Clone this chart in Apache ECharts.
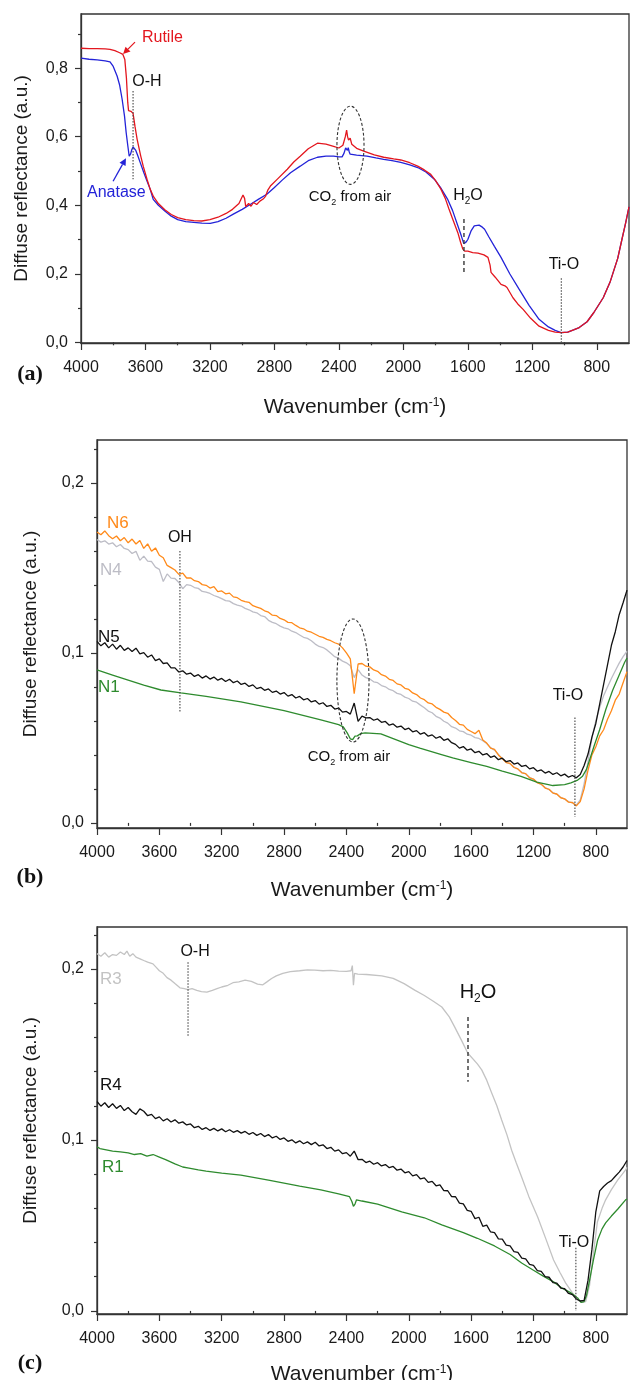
<!DOCTYPE html>
<html><head><meta charset="utf-8">
<script src="https://cdn.jsdelivr.net/npm/echarts@6.0.0/dist/echarts.min.js"></script>
<style>html,body{margin:0;padding:0;background:#fff}#main{width:630px;height:1380px}</style>
</head><body><div id="main"></div>
<script>
// ---------------- tick labels ----------------
const xTicksMajor = [800, 1200, 1600, 2000, 2400, 2800, 3200, 3600, 4000];
const xTicksMinor = [1000, 1400, 1800, 2200, 2600, 3000, 3400, 3800];
const yTicksMajorA = [0, 0.2, 0.4, 0.6, 0.8];
const yTicksMinorA = [0.1, 0.3, 0.5, 0.7, 0.9];
const yTicksMajorBC = [0, 0.1, 0.2];
const yTicksMinorBC = [0.02, 0.04, 0.06, 0.08, 0.12, 0.14, 0.16, 0.18, 0.22];

// ---------------- panel (a) ----------------
const rutileWn = [4000,3950,3900,3850,3820,3790,3760,3740,3728,3718,3710,3705,3690,3677,3665,3652,3630,3614,3590,3571,3550,3520,3480,3440,3400,3350,3300,3250,3200,3150,3100,3060,3020,2995,2985,2978,2960,2945,2930,2910,2890,2870,2855,2840,2825,2780,2720,2680,2640,2590,2533,2480,2433,2400,2375,2360,2352,2346,2340,2330,2320,2290,2246,2180,2122,2060,2016,1960,1911,1870,1830,1800,1767,1740,1717,1690,1662,1645,1631,1620,1600,1570,1537,1500,1475,1462,1456,1430,1394,1370,1357,1320,1290,1257,1210,1158,1100,1058,1021,980,940,909,860,818,760,718,670,644,620,600];
const rutileR = [0.858,0.857,0.857,0.856,0.855,0.851,0.845,0.840,0.825,0.770,0.700,0.676,0.674,0.668,0.630,0.593,0.545,0.514,0.475,0.447,0.425,0.405,0.387,0.373,0.364,0.358,0.355,0.354,0.358,0.365,0.376,0.388,0.405,0.430,0.420,0.396,0.405,0.397,0.408,0.402,0.412,0.418,0.426,0.445,0.456,0.477,0.505,0.526,0.543,0.565,0.581,0.578,0.572,0.567,0.575,0.600,0.619,0.600,0.590,0.596,0.578,0.566,0.558,0.547,0.540,0.535,0.532,0.524,0.514,0.503,0.490,0.472,0.447,0.420,0.389,0.355,0.320,0.292,0.272,0.266,0.266,0.262,0.260,0.255,0.248,0.225,0.204,0.190,0.169,0.165,0.160,0.130,0.112,0.096,0.070,0.047,0.035,0.030,0.028,0.030,0.037,0.043,0.060,0.087,0.130,0.175,0.245,0.300,0.350,0.395];
const anataseWn = [4000,3950,3900,3850,3820,3800,3776,3760,3745,3730,3720,3710,3701,3692,3685,3677,3670,3660,3648,3633,3610,3590,3571,3552,3520,3480,3440,3400,3350,3300,3250,3198,3150,3100,3055,3000,2950,2900,2847,2800,2750,2700,2640,2590,2533,2480,2433,2400,2380,2368,2358,2352,2347,2342,2336,2330,2290,2226,2170,2122,2070,2016,1960,1911,1860,1808,1770,1726,1695,1662,1640,1625,1620,1610,1600,1580,1560,1548,1530,1510,1496,1470,1435,1394,1340,1282,1220,1158,1100,1058,1021,980,940,909,860,818,760,718,670,644,620,600];
const anataseR = [0.829,0.826,0.824,0.821,0.818,0.805,0.777,0.750,0.710,0.660,0.613,0.575,0.543,0.550,0.562,0.570,0.572,0.560,0.545,0.525,0.495,0.470,0.447,0.417,0.400,0.383,0.368,0.358,0.352,0.350,0.348,0.347,0.352,0.362,0.374,0.388,0.402,0.417,0.432,0.452,0.474,0.495,0.514,0.530,0.540,0.543,0.543,0.541,0.541,0.552,0.567,0.572,0.560,0.568,0.556,0.549,0.546,0.543,0.538,0.534,0.530,0.525,0.518,0.510,0.497,0.476,0.452,0.418,0.385,0.340,0.310,0.288,0.286,0.293,0.300,0.325,0.340,0.345,0.342,0.336,0.330,0.308,0.280,0.248,0.200,0.155,0.108,0.067,0.045,0.035,0.028,0.030,0.037,0.043,0.060,0.087,0.130,0.175,0.245,0.300,0.350,0.395];

// ---------------- shared wavenumber grid for panels (b) and (c) ----------------
const wnGrid = [4000,3975,3950,3925,3900,3875,3850,3825,3800,3775,3750,3725,3700,3675,3650,3625,3600,3575,3550,3525,3500,3475,3450,3425,3400,3375,3350,3325,3300,3275,3250,3225,3200,3175,3150,3125,3100,3075,3050,3025,3000,2975,2950,2925,2900,2875,2850,2825,2800,2775,2750,2725,2700,2675,2650,2625,2600,2575,2550,2525,2500,2475,2450,2425,2400,2375,2350,2325,2300,2275,2250,2225,2200,2175,2150,2125,2100,2075,2050,2025,2000,1975,1950,1925,1900,1875,1850,1825,1800,1775,1750,1725,1700,1675,1650,1625,1600,1575,1550,1525,1500,1475,1450,1425,1400,1375,1350,1325,1300,1275,1250,1225,1200,1175,1150,1125,1100,1075,1050,1025,1000,975,950,925,900,875,850,825,800,775,750,725,700,675,650,625,600];

// ---------------- panel (b) ----------------
const n6R = [0.1712,0.1695,0.1718,0.1690, 0.1672,0.1688,0.1660,0.1679, 0.1648,0.1670,0.1641,0.1662, 0.1615,0.1642,0.1598,0.1618, 0.1575,0.1560,0.1515,0.1502, 0.1488,0.1462,0.1470,0.1441, 0.1442,0.1425,0.1420,0.1402, 0.1398,0.1382,0.1390,0.1361, 0.1365,0.1348,0.1352,0.1330, 0.1325,0.1310,0.1302,0.1298, 0.1278,0.1270,0.1262,0.1248, 0.1240,0.1222,0.1220,0.1203, 0.1195,0.1180,0.1178,0.1162, 0.1148,0.1142,0.1128,0.1122, 0.1110,0.1098,0.1092,0.1080, 0.1072,0.1060,0.1052,0.1030, 0.1000,0.0965,0.0760,0.0935, 0.0938,0.0922,0.0918,0.0900, 0.0892,0.0872,0.0864,0.0845, 0.0838,0.0818,0.0812,0.0792, 0.0785,0.0765,0.0755,0.0735, 0.0725,0.0706,0.0700,0.0680, 0.0668,0.0652,0.0645,0.0620, 0.0603,0.0580,0.0575,0.0550, 0.0538,0.0525,0.0545,0.0488, 0.0470,0.0440,0.0432,0.0400, 0.0378,0.0355,0.0350,0.0326, 0.0318,0.0295,0.0290,0.0265, 0.0258,0.0236,0.0228,0.0205, 0.0198,0.0175,0.0170,0.0148, 0.0142,0.0122,0.0120,0.0100, 0.0125,0.0200,0.0310,0.0400, 0.0448,0.0512,0.0548,0.0610, 0.0660,0.0722,0.0758,0.0825, 0.0890];
const n4R = [0.1668,0.1652,0.1660,0.1641, 0.1648,0.1625,0.1638,0.1615, 0.1608,0.1585,0.1598,0.1545, 0.1570,0.1540,0.1538,0.1505, 0.1492,0.1420,0.1465,0.1440, 0.1438,0.1415,0.1378,0.1402, 0.1398,0.1385,0.1380,0.1362, 0.1358,0.1350,0.1338,0.1330, 0.1320,0.1308,0.1305,0.1290, 0.1282,0.1276,0.1262,0.1254, 0.1242,0.1236,0.1220,0.1214, 0.1192,0.1180,0.1172,0.1158, 0.1148,0.1142,0.1128,0.1120, 0.1106,0.1092,0.1086,0.1072, 0.1052,0.1038,0.1032,0.1018, 0.0998,0.0978,0.0968,0.0952, 0.0942,0.0925,0.0855,0.0902, 0.0870,0.0855,0.0847,0.0830, 0.0825,0.0808,0.0801,0.0785, 0.0778,0.0762,0.0756,0.0740, 0.0732,0.0716,0.0710,0.0693, 0.0678,0.0658,0.0648,0.0627, 0.0617,0.0598,0.0587,0.0566, 0.0558,0.0542,0.0537,0.0522, 0.0516,0.0502,0.0497,0.0483, 0.0467,0.0443,0.0428,0.0403, 0.0377,0.0358,0.0347,0.0328, 0.0316,0.0298,0.0288,0.0268, 0.0256,0.0238,0.0226,0.0208, 0.0196,0.0178,0.0168,0.0150, 0.0140,0.0125,0.0118,0.0105, 0.0135,0.0230,0.0360,0.0500, 0.0600,0.0680,0.0748,0.0800, 0.0850,0.0895,0.0940,0.0978, 0.1010];
const n5R = [0.1068,0.1042,0.1060,0.1030, 0.1052,0.1022,0.1045,0.1015, 0.1030,0.1008,0.1028,0.0995, 0.1002,0.0975,0.0988,0.0955, 0.0965,0.0938,0.0942,0.0912, 0.0912,0.0888,0.0895,0.0875, 0.0882,0.0862,0.0872,0.0852, 0.0865,0.0846,0.0858,0.0840, 0.0850,0.0832,0.0845,0.0825, 0.0835,0.0815,0.0822,0.0803, 0.0812,0.0790,0.0798,0.0780, 0.0788,0.0768,0.0776,0.0758, 0.0767,0.0746,0.0755,0.0735, 0.0744,0.0724,0.0732,0.0712, 0.0720,0.0699,0.0707,0.0685, 0.0692,0.0670,0.0676,0.0652, 0.0656,0.0640,0.0705,0.0598, 0.0628,0.0618,0.0620,0.0604, 0.0612,0.0592,0.0597,0.0575, 0.0582,0.0563,0.0570,0.0549, 0.0557,0.0536,0.0543,0.0522, 0.0531,0.0510,0.0518,0.0498, 0.0508,0.0486,0.0495,0.0472, 0.0462,0.0440,0.0449,0.0428, 0.0435,0.0413,0.0421,0.0400, 0.0408,0.0386,0.0394,0.0372, 0.0381,0.0360,0.0367,0.0346, 0.0353,0.0332,0.0339,0.0318, 0.0325,0.0304,0.0312,0.0293, 0.0303,0.0285,0.0295,0.0277, 0.0287,0.0269,0.0279,0.0265, 0.0285,0.0338,0.0405,0.0505, 0.0585,0.0700,0.0815,0.0930, 0.1045,0.1125,0.1225,0.1295, 0.1370];
const n1Wn = [4000,3900,3800,3700,3590,3462,3300,3077,2800,2564,2450,2420,2395,2375,2360,2345,2330,2310,2280,2179,2000,1929,1790,1718,1600,1500,1400,1280,1179,1075,1000,960,920,885,860,840,810,776,735,692,650,615,600];
const n1R = [0.0900,0.0870,0.0840,0.0810,0.0782,0.0765,0.0745,0.0712,0.0660,0.0606,0.0578,0.0565,0.0530,0.0495,0.0490,0.0510,0.0512,0.0525,0.0530,0.0524,0.0460,0.0440,0.0402,0.0382,0.0355,0.0332,0.0305,0.0274,0.0240,0.0220,0.0225,0.0235,0.0250,0.0275,0.0315,0.0370,0.0455,0.0547,0.0670,0.0780,0.0870,0.0945,0.0970];

// ---------------- panel (c) ----------------
const r4R = [0.1225,0.1198,0.1218,0.1190, 0.1212,0.1185,0.1202,0.1172, 0.1190,0.1165,0.1150,0.1182, 0.1168,0.1142,0.1150,0.1125, 0.1135,0.1112,0.1124,0.1105, 0.1118,0.1098,0.1106,0.1088, 0.1094,0.1072,0.1080,0.1062, 0.1072,0.1056,0.1068,0.1053, 0.1065,0.1048,0.1060,0.1045, 0.1055,0.1040,0.1050,0.1033, 0.1044,0.1027,0.1038,0.1020, 0.1032,0.1012,0.1022,0.1003, 0.1012,0.0992,0.1001,0.0983, 0.0995,0.0978,0.0989,0.0973, 0.0987,0.0965,0.0972,0.0950, 0.0957,0.0935,0.0942,0.0920, 0.0926,0.0905,0.0935,0.0885, 0.0887,0.0868,0.0876,0.0858, 0.0867,0.0848,0.0856,0.0838, 0.0845,0.0823,0.0830,0.0808, 0.0815,0.0790,0.0797,0.0772, 0.0778,0.0752,0.0758,0.0732, 0.0738,0.0704,0.0703,0.0669, 0.0668,0.0631,0.0626,0.0588, 0.0583,0.0540,0.0548,0.0495, 0.0502,0.0462,0.0458,0.0422, 0.0420,0.0385,0.0381,0.0347, 0.0342,0.0309,0.0304,0.0272, 0.0267,0.0236,0.0231,0.0201, 0.0197,0.0166,0.0163,0.0134, 0.0130,0.0102,0.0095,0.0070, 0.0058,0.0062,0.0180,0.0360, 0.0580,0.0702,0.0728,0.0748, 0.0762,0.0788,0.0812,0.0842, 0.0880];
const r3Wn = [4000,3975,3950,3925,3900,3875,3850,3825,3808,3790,3770,3750,3724,3700,3675,3641,3620,3600,3575,3551,3525,3500,3468,3440,3417,3390,3360,3330,3295,3260,3230,3200,3160,3128,3090,3050,3010,2970,2936,2910,2880,2850,2808,2760,2700,2650,2603,2550,2500,2450,2400,2370,2362,2355,2348,2327,2270,2173,2100,2030,1962,1900,1840,1788,1740,1705,1660,1622,1560,1532,1500,1468,1435,1404,1370,1340,1310,1276,1230,1173,1120,1071,1030,994,950,917,890,865,840,813,790,760,737,700,660,630,609,600];
const r3R = [0.2090,0.2075,0.2095,0.2070,0.2085,0.2080,0.2100,0.2085,0.2105,0.2075,0.2090,0.2070,0.2060,0.2050,0.2040,0.2030,0.2010,0.1990,0.1975,0.1950,0.1935,0.1915,0.1890,0.1885,0.1880,0.1885,0.1875,0.1868,0.1865,0.1875,0.1885,0.1895,0.1905,0.1920,0.1925,0.1935,0.1928,0.1912,0.1908,0.1925,0.1945,0.1960,0.1975,0.1985,0.1990,0.1995,0.1994,0.1990,0.1992,0.1988,0.1986,0.1990,0.2020,0.1905,0.1975,0.1970,0.1968,0.1960,0.1945,0.1915,0.1877,0.1845,0.1810,0.1778,0.1720,0.1660,0.1580,0.1509,0.1445,0.1410,0.1350,0.1275,0.1200,0.1117,0.1030,0.0940,0.0865,0.0784,0.0670,0.0550,0.0420,0.0298,0.0225,0.0164,0.0105,0.0064,0.0050,0.0054,0.0150,0.0357,0.0520,0.0600,0.0650,0.0710,0.0765,0.0800,0.0825,0.0840];
const r1Wn = [4000,3981,3900,3850,3800,3760,3720,3680,3640,3600,3560,3500,3450,3410,3350,3300,3200,3077,2900,2700,2564,2450,2380,2365,2355,2345,2335,2300,2200,2045,1900,1788,1650,1560,1450,1350,1276,1200,1140,1071,1020,968,930,917,895,875,860,840,815,788,760,737,700,660,609,600];
const r1R = [0.0960,0.0950,0.0935,0.0930,0.0925,0.0915,0.0920,0.0905,0.0915,0.0900,0.0885,0.0860,0.0842,0.0836,0.0825,0.0818,0.0806,0.0795,0.0765,0.0730,0.0708,0.0685,0.0668,0.0640,0.0612,0.0625,0.0650,0.0643,0.0625,0.0580,0.0545,0.0503,0.0458,0.0425,0.0380,0.0330,0.0280,0.0238,0.0205,0.0170,0.0135,0.0110,0.0085,0.0076,0.0050,0.0055,0.0090,0.0180,0.0300,0.0415,0.0480,0.0515,0.0555,0.0595,0.0650,0.0655];

// ---------------- annotations (data coordinates) ----------------
// [panel, wavenumber, from, to, kind]
const annotLines = [
  [0, 3677, 0.733, 0.476, 'dot'], [0, 1624, 0.360, 0.204, 'dash'], [0, 1020, 0.187, 0.0, 'dot'],
  [1, 3468, 0.160, 0.065, 'dot'], [1, 934, 0.062, 0.0035, 'dot'],
  [2, 3416, 0.204, 0.161, 'dot'], [2, 1620, 0.172, 0.134, 'dash'], [2, 928, 0.037, 0.0, 'dot']
];
// [panel, centre wn, centre value, half-width wn, half-height value]
const annotEllipses = [[0, 2328, 0.575, 84, 0.114], [1, 2358, 0.0838, 103, 0.0362]];
// [panel, from wn, from value, to wn, to value, colour key]
const annotArrows = [[0, 3665, 0.876, 3739, 0.841, 'rutile'], [0, 3801, 0.470, 3721, 0.537, 'anatase']];
// [panel, text, wn, value, colour key, size key, align]
const annotTexts = [
  [0, 'Rutile', 3622, 0.888, 'rutile', 'ann', 'left'],
  [0, 'Anatase', 3963, 0.438, 'anatase', 'ann', 'left'],
  [0, 'O-H', 3591, 0.762, 'k', 'ann', 'center'],
  [0, 'CO{s|2} from air', 2331, 0.423, 'k', 'co2', 'center'],
  [0, 'H{s|2}O', 1599, 0.429, 'k', 'ann', 'center'],
  [0, 'Ti-O', 1004, 0.228, 'k', 'ann', 'center'],
  [1, 'N6', 3936, 0.1765, 'n6', 'ser', 'left'],
  [1, 'N4', 3981, 0.1488, 'n4', 'ser', 'left'],
  [1, 'N5', 3994, 0.1094, 'k', 'ser', 'left'],
  [1, 'N1', 3994, 0.0800, 'green', 'ser', 'left'],
  [1, 'OH', 3468, 0.1676, 'k', 'ann', 'center'],
  [1, 'CO{s|2} from air', 2384, 0.0388, 'k', 'co2', 'center'],
  [1, 'Ti-O', 979, 0.0747, 'k', 'ann', 'center'],
  [2, 'R3', 3981, 0.194, 'r3', 'ser', 'left'],
  [2, 'R4', 3981, 0.132, 'k', 'ser', 'left'],
  [2, 'R1', 3968, 0.084, 'green', 'ser', 'left'],
  [2, 'O-H', 3371, 0.210, 'k', 'ann', 'center'],
  [2, 'H{s|2}O', 1556, 0.1865, 'k', 'big', 'center'],
  [2, 'Ti-O', 940, 0.0398, 'k', 'ann', 'center']
];

// ---------------- styling ----------------
const F = "'Liberation Sans', Arial, Helvetica, sans-serif";
const C = {rutile:'#e3161e', anatase:'#2323d8', n6:'#ff8a1a', n4:'#bdbdc6', k:'#111111', green:'#2e8b2e', r3:'#c3c3c3'};
const SZ = {ann:16, co2:15, ser:17, big:20};
const AX = '#333';
const pairs = (xs, ys) => xs.map((x, i) => [x, ys[i]]);
const fmtY = v => v.toFixed(1).replace('.', ',');
const fmtX = v => String(Math.round(v));

const gridsPx = [
  {left:81, top:14, width:548, height:329, ymin:-0.002, ymax:0.958, yMaj:yTicksMajorA, yMin:yTicksMinorA, yGap:50, xGap:54},
  {left:97, top:440, width:530, height:388, ymin:-0.003, ymax:0.2253, yMaj:yTicksMajorBC, yMin:yTicksMinorBC, yGap:57, xGap:52},
  {left:97, top:927, width:530, height:387, ymin:-0.0018, ymax:0.2246, yMaj:yTicksMajorBC, yMin:yTicksMinorBC, yGap:57, xGap:50}
];

const grid = gridsPx.map(g => ({left:g.left, top:g.top, width:g.width, height:g.height, show:true,
  borderColor:AX, borderWidth:1.3, backgroundColor:'transparent', containLabel:false, outerBoundsMode:'none'}));

const xAxis = [], yAxis = [];
gridsPx.forEach((g, i) => {
  xAxis.push({gridIndex:i, type:'value', inverse:true, min:600, max:4000, position:'bottom',
    axisLine:{show:true, onZero:false, lineStyle:{color:AX, width:1.3}},
    axisTick:{show:true, inside:false, length:7, customValues:xTicksMajor, lineStyle:{color:AX, width:1.2}},
    axisLabel:{show:true, customValues:xTicksMajor, formatter:fmtX, fontSize:16, color:'#1a1a1a', margin:17, fontFamily:F},
    splitLine:{show:false},
    name:'Wavenumber (cm{sup|-1})', nameLocation:'middle', nameGap:g.xGap,
    nameTextStyle:{fontSize:21, color:'#1a1a1a', fontFamily:F,
      rich:{sup:{fontSize:12, color:'#1a1a1a', fontFamily:F, verticalAlign:'top', lineHeight:12}}}
  });
  yAxis.push({gridIndex:i, type:'value', min:g.ymin, max:g.ymax, position:'left',
    axisLine:{show:true, onZero:false, lineStyle:{color:AX, width:1.3}},
    axisTick:{show:true, inside:false, length:6, customValues:g.yMaj, lineStyle:{color:AX, width:1.2}},
    axisLabel:{show:true, customValues:g.yMaj, formatter:fmtY, fontSize:16, color:'#1a1a1a', margin:13, fontFamily:F},
    splitLine:{show:false},
    name:'Diffuse reflectance (a.u.)', nameLocation:'middle', nameGap:g.yGap,
    nameTextStyle:{fontSize:19, color:'#1a1a1a', fontFamily:F}
  });
});
gridsPx.forEach((g, i) => {
  xAxis.push({gridIndex:i, type:'value', inverse:true, min:600, max:4000, position:'bottom',
    axisLine:{show:false}, axisLabel:{show:false}, splitLine:{show:false},
    axisTick:{show:true, inside:false, length:3, customValues:xTicksMinor, lineStyle:{color:AX, width:1.2}}});
  yAxis.push({gridIndex:i, type:'value', min:g.ymin, max:g.ymax, position:'left', offset:0,
    axisLine:{show:false}, axisLabel:{show:false}, splitLine:{show:false},
    axisTick:{show:true, inside:false, length:3, customValues:g.yMin, lineStyle:{color:AX, width:1.2}}});
});

const line = (name, p, xs, ys, color, z) => ({name, type:'line', xAxisIndex:p, yAxisIndex:p,
  data:pairs(xs, ys), showSymbol:false, symbol:'none', silent:true, z:z,
  lineStyle:{color, width:1.3}, itemStyle:{color}});

const series = [
  line('Anatase', 0, anataseWn, anataseR, C.anatase, 2),
  line('Rutile', 0, rutileWn, rutileR, C.rutile, 3),
  line('N4', 1, wnGrid, n4R, C.n4, 2),
  line('N6', 1, wnGrid, n6R, C.n6, 3),
  line('N1', 1, n1Wn, n1R, C.green, 4),
  line('N5', 1, wnGrid, n5R, C.k, 5),
  line('R3', 2, r3Wn, r3R, C.r3, 2),
  line('R1', 2, r1Wn, r1R, C.green, 3),
  line('R4', 2, wnGrid, r4R, C.k, 4)
];

const chart = echarts.init(document.getElementById('main'), null, {renderer:'canvas'});
chart.setOption({animation:false, backgroundColor:'#ffffff', grid, xAxis, yAxis, series});

// ---------------- annotations via the chart's own scales ----------------
const panelSeries = [0, 2, 6];
const px = (p, w, v) => chart.convertToPixel({seriesIndex:panelSeries[p]}, [w, v]);
const g = [];
annotLines.forEach(([p, w, v1, v2, kind]) => {
  const a = px(p, w, v1), b = px(p, w, v2);
  g.push({type:'line', z:50, shape:{x1:a[0], y1:a[1], x2:b[0], y2:b[1]},
    style:{stroke:'#444', lineWidth:kind === 'dash' ? 1.5 : 1.1, lineDash:kind === 'dash' ? [4, 3] : [1.5, 1.5]}});
});
annotEllipses.forEach(([p, w, v, rw, rv]) => {
  const c = px(p, w, v), e = px(p, w - rw, v + rv);
  g.push({type:'ellipse', z:50, shape:{cx:c[0], cy:c[1], rx:Math.abs(e[0] - c[0]), ry:Math.abs(c[1] - e[1])},
    style:{fill:'none', stroke:'#333', lineWidth:1.1, lineDash:[3, 2]}});
});
annotArrows.forEach(([p, w1, v1, w2, v2, ck]) => {
  const a = px(p, w1, v1), b = px(p, w2, v2);
  const dx = b[0] - a[0], dy = b[1] - a[1], L = Math.hypot(dx, dy), ux = dx / L, uy = dy / L;
  const hl = 7, hw = 3.5, bx = b[0] - ux * hl, by = b[1] - uy * hl;
  g.push({type:'line', z:50, shape:{x1:a[0], y1:a[1], x2:bx, y2:by}, style:{stroke:C[ck], lineWidth:1.3}});
  g.push({type:'polygon', z:50, shape:{points:[[b[0], b[1]], [bx - uy * hw, by + ux * hw], [bx + uy * hw, by - ux * hw]]}, style:{fill:C[ck]}});
});
annotTexts.forEach(([p, t, w, v, ck, sk, al]) => {
  const a = px(p, w, v), s = SZ[sk];
  g.push({type:'text', z:60, x:a[0], y:a[1], style:{text:t, fill:C[ck], fontSize:s, fontFamily:F,
    align:al, verticalAlign:'middle', textAlign:al, textVerticalAlign:'middle', lineHeight:Math.round(s * 1.3),
    rich:{s:{fontSize:Math.round(s * 0.62), fill:C[ck], fontFamily:F, verticalAlign:'bottom', lineHeight:Math.round(s * 0.7)}}}});
});
const panelLetters = [['(a)', 374], ['(b)', 877], ['(c)', 1363]];
panelLetters.forEach(([t, y]) => {
  g.push({type:'text', z:60, x:30, y:y, style:{text:t, fill:'#111', fontSize:22, fontWeight:'bold',
    fontFamily:"'Liberation Serif', 'Times New Roman', serif", align:'center', verticalAlign:'middle',
    textAlign:'center', textVerticalAlign:'middle'}});
});
chart.setOption({graphic:g});
</script>
</body></html>
